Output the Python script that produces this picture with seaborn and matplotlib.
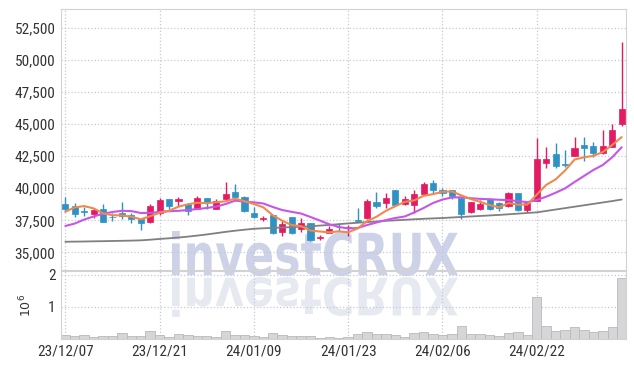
import matplotlib
matplotlib.use("Agg")
import matplotlib.pyplot as plt
import seaborn as sns
import numpy as np
from matplotlib import font_manager
from matplotlib.textpath import TextPath
from matplotlib.patches import PathPatch
from matplotlib.font_manager import FontProperties
from matplotlib.transforms import Affine2D
from matplotlib.ticker import FuncFormatter

# trading days shown on the chart
dates = ["23/12/07", "23/12/08", "23/12/11", "23/12/12", "23/12/13", "23/12/14", "23/12/15",
         "23/12/18", "23/12/19", "23/12/20", "23/12/21", "23/12/22", "23/12/26", "23/12/27",
         "23/12/28", "24/01/02", "24/01/03", "24/01/04", "24/01/05", "24/01/08", "24/01/09",
         "24/01/10", "24/01/11", "24/01/12", "24/01/15", "24/01/16", "24/01/17", "24/01/18",
         "24/01/19", "24/01/22", "24/01/23", "24/01/24", "24/01/25", "24/01/26", "24/01/29",
         "24/01/30", "24/01/31", "24/02/01", "24/02/02", "24/02/05", "24/02/06", "24/02/07",
         "24/02/08", "24/02/13", "24/02/14", "24/02/15", "24/02/16", "24/02/19", "24/02/20",
         "24/02/21", "24/02/22", "24/02/23", "24/02/26", "24/02/27", "24/02/28", "24/02/29",
         "24/03/04", "24/03/05", "24/03/06", "24/03/07"]

opens = [38800, 38640, 38250, 38010, 38380, 37780, 38070, 37940, 37630, 37390,
         38050, 39160, 39000, 38770, 38400, 39210, 38400, 39140, 39700, 39290,
         38090, 37630, 37910, 36610, 37730, 36800, 37270, 36120, 36530, 36990,
         36900, 37500, 37680, 38950, 38850, 39880, 38770, 38720, 39550, 40400,
         39830, 39880, 39240, 38150, 38400, 39160, 38850, 38580, 39630, 38330,
         39030, 41990, 42640, 41830, 42530, 43370, 43290, 42770, 43230, 45000]
highs = [39300, 38820, 38560, 38430, 38750, 38090, 38900, 38090, 37700, 38750,
         39240, 39160, 39320, 38850, 39390, 39210, 39140, 40500, 40330, 39370,
         38510, 37840, 37950, 37450, 37780, 37650, 37320, 36350, 37050, 37290,
         37150, 38460, 39160, 39670, 39630, 39900, 39360, 39830, 40450, 40610,
         40000, 39900, 39240, 38950, 39050, 39200, 38900, 39700, 39650, 38900,
         43890, 43230, 43500, 42980, 43970, 43970, 43580, 44530, 44980, 51370]
lows = [38150, 37780, 37830, 37700, 37350, 37450, 37580, 37270, 36720, 37300,
        37950, 38400, 38640, 37910, 38350, 38360, 38350, 39080, 39080, 38170,
        37650, 37470, 36450, 36300, 36400, 36570, 35900, 35970, 36500, 36690,
        36250, 37390, 37620, 38460, 38460, 38680, 38660, 38070, 39550, 39630,
        39420, 39160, 37600, 38100, 38270, 38330, 38250, 38550, 38190, 38120,
        39000, 41550, 41550, 41680, 42500, 42120, 42410, 42640, 43200, 44870]
closes = [38400, 37970, 38150, 38280, 37390, 37720, 37860, 37630, 37290, 38610,
          39080, 38640, 39160, 38250, 39210, 38900, 39000, 39550, 39290, 38220,
          37780, 37680, 36490, 37190, 36530, 37320, 35970, 36170, 36800, 36950,
          36950, 37470, 38970, 38580, 39240, 38720, 39180, 39550, 40350, 39880,
          39630, 39360, 37990, 38930, 38790, 38380, 38460, 39630, 38330, 38850,
          42250, 42250, 41750, 41800, 43110, 43160, 42770, 43290, 44530, 46150]

ma5 = [38170, 38510, 38610, 38430, 38040, 37900, 37880, 37780, 37580, 37820,
       38090, 38250, 38560, 38750, 38870, 38830, 38910, 38980, 39190, 38990,
       38770, 38510, 37890, 37470, 37130, 37040, 36700, 36630, 36560, 36640,
       36570, 36870, 37430, 37780, 38240, 38600, 38940, 39050, 39410, 39540,
       39720, 39750, 39440, 39160, 38940, 38690, 38510, 38840, 38720, 38730,
       39500, 40260, 40690, 41380, 42230, 42410, 42520, 42820, 43370, 43980]
ma10 = [37060, 37250, 37560, 37800, 38010, 38150, 38240, 38220, 38070, 38080,
        38150, 38210, 38240, 38300, 38380, 38460, 38570, 38770, 39030, 38960,
        38900, 38810, 38540, 38300, 38160, 38030, 37760, 37480, 37190, 36990,
        36860, 36900, 37130, 37330, 37520, 37680, 37800, 38110, 38460, 38850,
        39120, 39280, 39290, 39220, 39170, 39140, 39100, 39070, 39000, 38910,
        39080, 39340, 39650, 39990, 40480, 40950, 41420, 41810, 42410, 43190]
ma60 = [35830, 35840, 35850, 35865, 35875, 35890, 35905, 35920, 35940, 35990,
        36050, 36100, 36160, 36230, 36310, 36400, 36500, 36600, 36690, 36770,
        36840, 36880, 36910, 36940, 36970, 37000, 37040, 37090, 37140, 37200,
        37260, 37310, 37360, 37410, 37460, 37500, 37540, 37580, 37620, 37650,
        37680, 37720, 37760, 37800, 37840, 37880, 37920, 37970, 38020, 38070,
        38120, 38230, 38340, 38450, 38560, 38670, 38780, 38890, 39000, 39120]

volume = [130000, 100000, 140000, 65000, 100000, 100000, 190000, 100000, 100000, 260000,
          140000, 65000, 160000, 140000, 100000, 100000, 65000, 260000, 140000, 140000,
          100000, 65000, 190000, 140000, 100000, 100000, 100000, 30000, 65000, 30000,
          65000, 160000, 230000, 160000, 160000, 130000, 65000, 190000, 230000, 160000,
          110000, 160000, 420000, 160000, 160000, 130000, 100000, 190000, 230000, 130000,
          1320000, 420000, 260000, 290000, 390000, 290000, 230000, 260000, 390000, 1910000]

UP = "#e31b63"
DOWN = "#2e93c4"
GRID = "#c6c8da"
SPINE = "#d2d2d2"


def pick_font(names):
    have = {f.name for f in font_manager.fontManager.ttflist}
    for n in names:
        if n in have:
            return n
    return "DejaVu Sans"


sns.set_theme(style="white")
tick_font = pick_font(["Liberation Sans Narrow", "Roboto Condensed", "Open Sans Condensed",
                       "DejaVu Sans Condensed", "Liberation Sans"])
plt.rcParams["font.family"] = [tick_font, "DejaVu Sans"]

W, H = 634, 366
fig = plt.figure(figsize=(W / 100, H / 100), dpi=100)
fig.patch.set_facecolor("white")

left, right = 61, 625.7
ax = fig.add_axes([left / W, (H - 270) / H, (right - left) / W, (270 - 9) / H])
axv = fig.add_axes([left / W, (H - 339) / H, (right - left) / W, (339 - 271) / H], sharex=ax)

# watermark with reflection, drawn behind the axes
wm_font = FontProperties(family="DejaVu Sans", weight="bold")
tp = TextPath((0, 0), "investCRUX", size=100, prop=wm_font)
bb = tp.get_extents()


def watermark(x0, x1, y_top, y_bot, flip, color):
    sx = (x1 - x0) / bb.width
    sy = (y_bot - y_top) / bb.height
    if flip:
        tr = Affine2D().translate(-bb.x0, -bb.y0).scale(sx, -sy).translate(x0, H - y_top)
    else:
        tr = Affine2D().translate(-bb.x0, -bb.y0).scale(sx, sy).translate(x0, H - y_bot)
    patch = PathPatch(tp, transform=tr, facecolor=color, edgecolor="none", zorder=-5)
    fig.add_artist(patch)


watermark(172, 458, 231, 276, False, "#cdd2e8")
watermark(172, 458, 277, 317, True, "#e7e9f0")

for a in (ax, axv):
    a.set_facecolor("none")
    for s in a.spines.values():
        s.set_color(SPINE)
        s.set_linewidth(0.8)
    a.grid(True, linestyle=":", color=GRID, linewidth=0.9)
    a.set_axisbelow(True)
    a.tick_params(length=0, labelsize=11, colors="#333333", pad=4)

idx = np.arange(len(dates))
o = np.array(opens)
c = np.array(closes)
colors = [UP if cc >= oo else DOWN for oo, cc in zip(o, c)]

# candles: wicks then bodies
ax.vlines(idx, lows, highs, colors=colors, linewidth=1.0, zorder=2)
body_low = np.minimum(o, c)
body_h = np.maximum(np.abs(c - o), 50)
ax.bar(idx, body_h, bottom=body_low, width=0.66, color=colors, edgecolor=colors,
       linewidth=0.5, zorder=3)

# moving averages
sns.lineplot(x=idx, y=ma60, ax=ax, color="#808080", linewidth=1.3, zorder=4)
sns.lineplot(x=idx, y=ma10, ax=ax, color="#c955e8", linewidth=1.5, zorder=4)
sns.lineplot(x=idx, y=ma5, ax=ax, color="#ef8a4e", linewidth=1.5, zorder=5)

ax.set_ylim(33630, 53960)
ax.set_yticks(np.arange(35000, 52501, 2500))
ax.yaxis.set_major_formatter(FuncFormatter(lambda v, p: f"{v:,.0f}"))
ax.set_xlabel("")
ax.set_ylabel("")
ax.tick_params(axis="x", labelbottom=False)

# volume
sns.barplot(x=idx, y=volume, ax=axv, native_scale=True, width=1.0, color="#d6d6d8",
            edgecolor="#b9b9bc", linewidth=0.6, errorbar=None, saturation=1, zorder=2)
axv.set_ylim(0, 2.125e6)
axv.set_yticks([1e6, 2e6])
axv.yaxis.set_major_formatter(FuncFormatter(lambda v, p: f"{v / 1e6:.0f}"))
axv.set_ylabel("$10^6$", fontsize=9, color="#333333", labelpad=10)

tick_idx = idx[::10]
axv.set_xticks(tick_idx)
axv.set_xticklabels([dates[i] for i in tick_idx])
axv.set_xlabel("")
axv.set_xlim(-0.46, 59.43)

fig.savefig("out.png", dpi=100)
